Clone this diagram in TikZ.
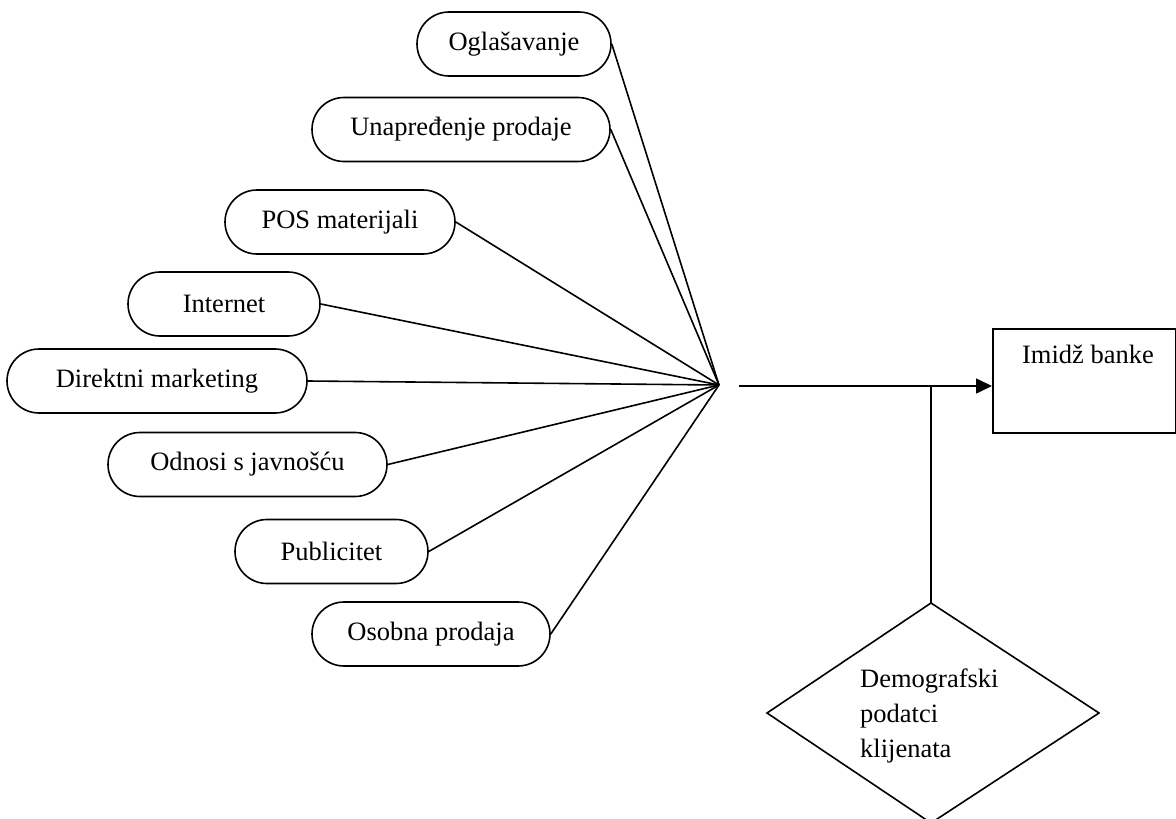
\documentclass[tikz,border=0pt]{standalone}
\usepackage{fontspec}
\setmainfont{Liberation Serif}
\usetikzlibrary{shapes.misc,arrows.meta}
\begin{document}
\begin{tikzpicture}[x=1pt,y=-1pt,
  every node/.style={font=\fontsize{26.5}{35}\selectfont},
  pill/.style={rounded rectangle, draw, line width=1.6pt, minimum height=64pt, inner sep=0pt},
  conn/.style={line width=1.6pt},
  box/.style={draw, line width=1.6pt, minimum width=183pt, minimum height=104pt, inner sep=0pt}
]
\useasboundingbox (0,0) rectangle (1176,819);
\node[pill, minimum width=194pt] (p1) at (514,44) {Oglašavanje};
\node[pill, minimum width=298pt] (p2) at (461,129.5) {Unapređenje prodaje};
\node[pill, minimum width=230pt] (p3) at (340,222) {POS materijali};
\node[pill, minimum width=192pt] (p4) at (224,304) {Internet};
\node[pill, minimum width=300pt] (p5) at (157,381) {Direktni marketing};
\node[pill, minimum width=279pt] (p6) at (247.5,464.5) {Odnosi s javnošću};
\node[pill, minimum width=193pt] (p7) at (331.5,551.5) {Publicitet};
\node[pill, minimum width=238pt] (p8) at (431,634) {Osobna prodaja};
\coordinate (c) at (719,385);
\foreach \i in {1,...,8} \draw[conn] (p\i.east) -- (c);
% box
\node[box, anchor=north west] (img) at (992,328) {};
\node[anchor=base] (imgt) at (1088,363) {Imidž banke};
\coordinate (s) at (739,386);
\coordinate (e) at (992,386);
\coordinate (j) at (931,386);
\draw[conn, -{Triangle[length=16pt,width=15pt]}] (s) -- (e);
% diamond
\coordinate (dt) at (931,603);
\coordinate (dl) at (767,713);
\coordinate (dr) at (1099,713);
\coordinate (db) at (931,823);
\draw[conn] (j) -- (dt);
\draw[conn, line join=miter] (dt) -- (dr) -- (db) -- (dl) -- cycle;
\node[anchor=base west, align=left, inner sep=0pt] (dtext) at (860,757) {Demografski\\podatci\\klijenata};
\end{tikzpicture}
\end{document}
